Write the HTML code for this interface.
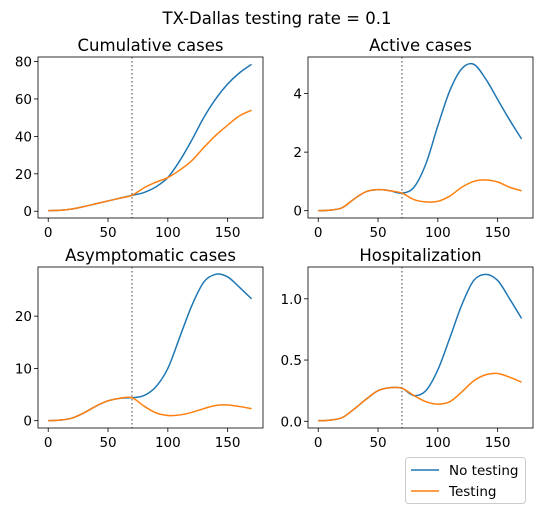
<!DOCTYPE html>
<html><head><meta charset="utf-8"><style>
body{margin:0;background:#fff;font-family:"DejaVu Sans","Liberation Sans",sans-serif}
</style></head><body>
<svg id="fig" width="543" height="514" xmlns="http://www.w3.org/2000/svg">
<text x="277" y="24" text-anchor="middle" font-size="16.5" fill="#000">TX-Dallas testing rate = 0.1</text>
<g>
<rect x="405.5" y="457.5" width="120" height="46" rx="3" fill="#fff" stroke="#ccc"/>
<line x1="411" y1="470" x2="439" y2="470" stroke="#1f77b4" stroke-width="1.5"/>
<text x="449" y="475" font-size="13.5">No testing</text>
<line x1="411" y1="491" x2="439" y2="491" stroke="#ff7f0e" stroke-width="1.5"/>
<text x="449" y="496" font-size="13.5">Testing</text>
</g>
</svg>
<script>
const days=[0,10,20,30,40,50,60,70,80,90,100,110,120,130,140,150,160,170];
const cumNo=[0.3,0.5,1.2,2.5,4,5.5,7,8.5,10,13,18,27,38,50,60,68,74,78.5];
const cumTest=[0.3,0.5,1.2,2.5,4,5.5,7,8.5,12.5,15.5,18,22,27,34,40.5,46,51,54];
const actNo=[0,0.02,0.1,0.4,0.65,0.72,0.68,0.6,0.8,1.6,2.9,4.1,4.85,5.0,4.5,3.8,3.1,2.45];
const actTest=[0,0.02,0.1,0.4,0.65,0.72,0.68,0.6,0.38,0.3,0.32,0.5,0.8,1.0,1.05,0.98,0.8,0.68];
const asyNo=[0,0.1,0.5,1.5,2.8,3.8,4.3,4.4,4.8,6.5,10,16,22,26.5,28,27.5,25.5,23.3];
const asyTest=[0,0.1,0.5,1.5,2.8,3.8,4.3,4.4,2.8,1.5,1.0,1.1,1.6,2.3,2.9,3.0,2.7,2.3];
const hosNo=[0.005,0.01,0.03,0.1,0.18,0.25,0.275,0.27,0.21,0.25,0.42,0.68,0.95,1.15,1.2,1.15,1.0,0.84];
const hosTest=[0.005,0.01,0.03,0.1,0.18,0.25,0.275,0.27,0.21,0.16,0.14,0.16,0.24,0.33,0.38,0.39,0.36,0.32];
const xTicks=[0,50,100,150];
const cumTicks=[0,20,40,60,80];
const actTicks=[0,2,4];
const asyTicks=[0,10,20];
const hosTicks=["0.0","0.5","1.0"];
const interventionDay=70;
const NS="http://www.w3.org/2000/svg";
const fig=document.getElementById('fig');
function mk(tag,attrs,parent){const e=document.createElementNS(NS,tag);for(const k in attrs)e.setAttribute(k,attrs[k]);parent.appendChild(e);return e;}
function path(xs,ys,sx,sy){
  const p=xs.map((x,i)=>[sx(x),sy(ys[i])]);
  let d=`M${p[0][0]},${p[0][1]}`;
  for(let i=0;i<p.length-1;i++){
    const p0=p[Math.max(0,i-1)],p1=p[i],p2=p[i+1],p3=p[Math.min(p.length-1,i+2)];
    d+=` C${p1[0]+(p2[0]-p0[0])/6},${p1[1]+(p2[1]-p0[1])/6} ${p2[0]-(p3[0]-p1[0])/6},${p2[1]-(p3[1]-p1[1])/6} ${p2[0]},${p2[1]}`;
  }
  return d;
}
function panel(name,title,L,T,W,H,no,test,ticks){
  const g=mk('g',{},fig);
  
  
  const xmin=days[0],xmax=days[days.length-1]+1,xm=(xmax-xmin)*0.05;
  const all=no.concat(test);const ymin=Math.min(...all),ymax=Math.max(...all),ym=(ymax-ymin)*0.05;
  const sx=v=>L+(v-(xmin-xm))/(xmax-xmin+2*xm)*W;
  const sy=v=>T+H-(v-(ymin-ym))/(ymax-ymin+2*ym)*H;
  const t=mk('text',{x:L+W/2,y:T-6,'text-anchor':'middle','font-size':16.5},g);t.textContent=title;
  
  
  xTicks.forEach(v=>{mk('line',{x1:sx(v),x2:sx(v),y1:T+H,y2:T+H+4,stroke:'#000','stroke-width':0.8},g);
    const e=mk('text',{x:sx(v),y:T+H+19,'text-anchor':'middle','font-size':13.5},g);e.textContent=v;
    
    });
  ticks.forEach(v=>{const n=parseFloat(v);mk('line',{x1:L-4,x2:L,y1:sy(n),y2:sy(n),stroke:'#000','stroke-width':0.8},g);
    const e=mk('text',{x:L-6,y:sy(n)+5,'text-anchor':'end','font-size':13.5},g);e.textContent=v;
    
    });
  const vl=mk('line',{x1:sx(interventionDay),x2:sx(interventionDay),y1:T,y2:T+H,stroke:'#808080','stroke-width':1.5,'stroke-dasharray':'1.5,2.5'},g);
  
  
  const a=mk('path',{d:path(days,no,sx,sy),fill:'none',stroke:'#1f77b4','stroke-width':1.5},g);
  
  
  const b=mk('path',{d:path(days,test,sx,sy),fill:'none',stroke:'#ff7f0e','stroke-width':1.5},g);
  
  
  mk('rect',{x:L,y:T,width:W,height:H,fill:'none',stroke:'#000','stroke-width':0.8},g);
}
panel('cumulative','Cumulative cases',38,57,225,161,cumNo,cumTest,cumTicks);
panel('active','Active cases',308,57,225,161,actNo,actTest,actTicks);
panel('asymptomatic','Asymptomatic cases',38,267,225,161,asyNo,asyTest,asyTicks);
panel('hospitalization','Hospitalization',308,267,225,161,hosNo,hosTest,hosTicks);
</script>
</body></html>
